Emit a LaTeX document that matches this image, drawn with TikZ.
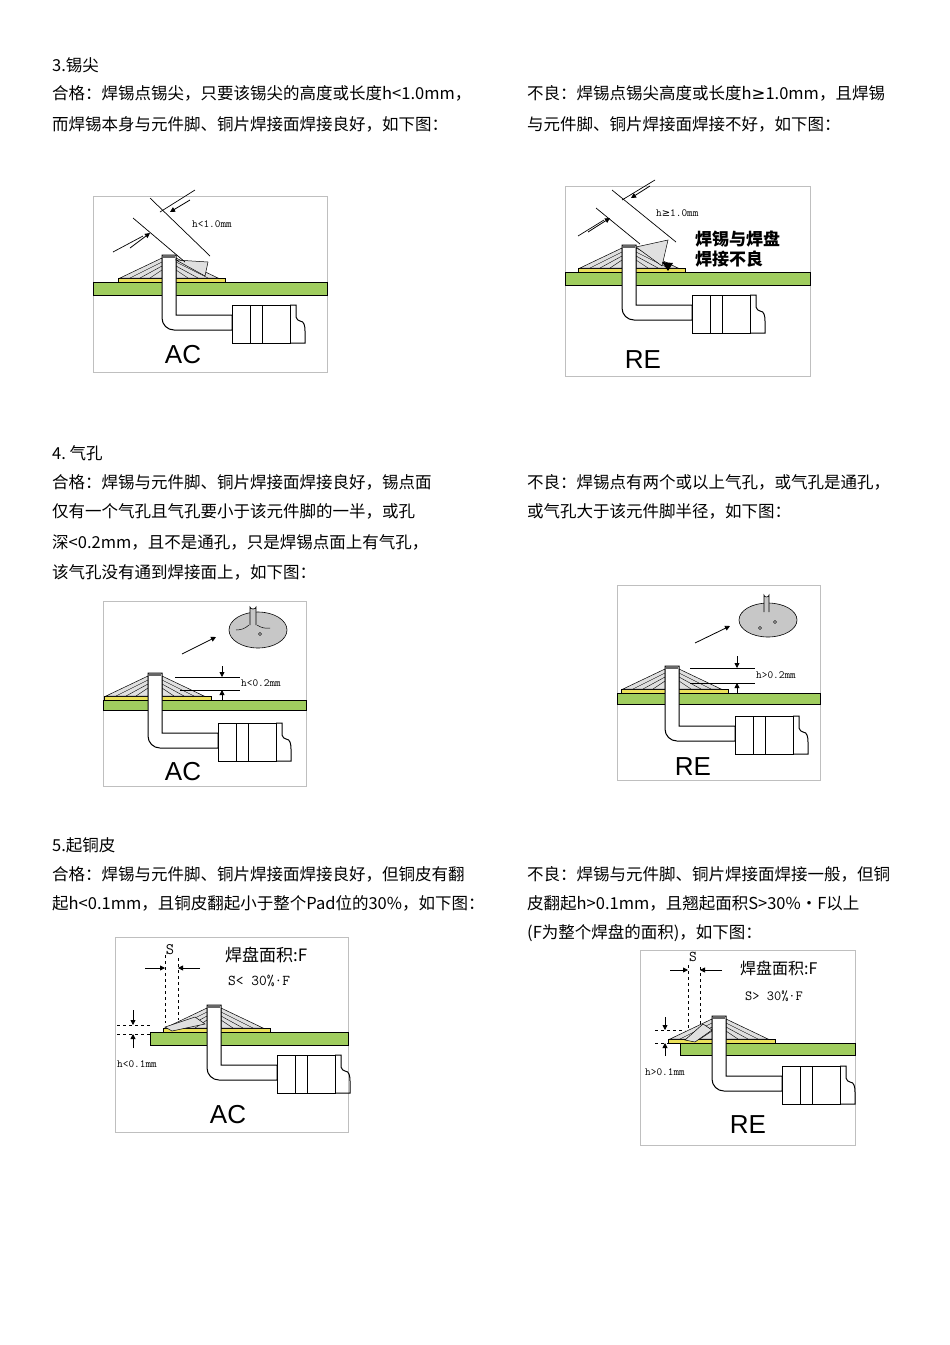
\documentclass[tikz,border=0pt]{standalone}
\usepackage{fontspec}
\newfontfamily\cjk{Noto Sans CJK SC}
\newfontfamily\djv{DejaVu Sans}
\setsansfont{Liberation Sans}
\usetikzlibrary{arrows.meta}
\definecolor{boardg}{RGB}{160,205,95}
\definecolor{padY}{RGB}{235,225,90}
\tikzset{
  txt/.style={anchor=west,inner sep=0pt,font=\cjk\fontsize{16.5}{16.5}\selectfont},
  frame/.style={draw=black!25,line width=0.6pt},
  lab/.style={inner sep=0pt,font=\ttfamily\fontsize{11}{11}\selectfont},
  big/.style={inner sep=0pt,font=\sffamily\fontsize{26}{26}\selectfont},
  dim/.style={-{Triangle[length=5pt,width=5pt]},line width=0.8pt},
  joint/.pic={
    \fill[padY,draw=black,line width=0.6pt] (-44,23) rectangle (63,27);
    \fill[black!12,draw=black,line width=0.5pt] (-42,23) -- (0,3) -- (0,23) -- cycle;
    \fill[black!12,draw=black,line width=0.5pt] (14,3) -- (56,23) -- (14,23) -- cycle;
    \foreach \k in {1,2,3} {\draw[line width=0.4pt] (-42+10*\k,23) -- (0,3+4*\k);
      \draw[line width=0.4pt] (56-10*\k,23) -- (14,3+4*\k);}
    \filldraw[fill=white,line width=1pt] (0,0) -- (14,0) -- (14,60) -- (70,60) -- (70,75) -- (12,75) to[out=180,in=-90] (0,63) -- cycle;
    \fill[black!60] (1,0) rectangle (13,3);
    \filldraw[fill=white,line width=1pt] (70,50) rectangle (128,88);
    \draw[line width=1pt] (88,50) -- (88,88) (100,50) -- (100,88);
    \draw[line width=1pt] (128,50) -- (134,50) -- (134,62) to[out=-60,in=180] (138,66) to[out=0,in=90] (143,76) -- (143,88) -- (128,88);
  }
}
\begin{document}
\begin{tikzpicture}[x=1pt,y=-1pt]
\useasboundingbox[fill=white] (0,0) rectangle (950,1345);
% ---- texts
\node[txt] (t1) at (52,65) {3.锡尖};
\node[txt] (t2) at (52,93) {合格：焊锡点锡尖，只要该锡尖的高度或长度h<1.0mm，};
\node[txt] (t3) at (52,124) {而焊锡本身与元件脚、铜片焊接面焊接良好，如下图：};
\node[txt] (t4) at (527,93) {不良：焊锡点锡尖高度或长度h{\djv ≥}1.0mm，且焊锡};
\node[txt] (t5) at (527,124) {与元件脚、铜片焊接面焊接不好，如下图：};
\node[txt] (t6) at (52,453) {4.\ 气孔};
\node[txt] (t7) at (52,482) {合格：焊锡与元件脚、铜片焊接面焊接良好，锡点面};
\node[txt] (t8) at (52,511) {仅有一个气孔且气孔要小于该元件脚的一半，或孔};
\node[txt] (t9) at (52,542) {深<0.2mm，且不是通孔，只是焊锡点面上有气孔，};
\node[txt] (t10) at (52,572) {该气孔没有通到焊接面上，如下图：};
\node[txt] (t11) at (527,482) {不良：焊锡点有两个或以上气孔，或气孔是通孔，};
\node[txt] (t12) at (527,511) {或气孔大于该元件脚半径，如下图：};
\node[txt] (t13) at (52,845) {5.起铜皮};
\node[txt] (t14) at (52,874) {合格：焊锡与元件脚、铜片焊接面焊接良好，但铜皮有翻};
\node[txt] (t15) at (52,903) {起h<0.1mm，且铜皮翻起小于整个Pad位的30\%，如下图：};
\node[txt] (t16) at (527,874) {不良：焊锡与元件脚、铜片焊接面焊接一般，但铜};
\node[txt] (t17) at (527,903) {皮翻起h>0.1mm，且翘起面积S>30\%·F以上};
\node[txt] (t18) at (527,933) {(F为整个焊盘的面积)，如下图：};

% ---- fig 1 AC
\draw[frame] (93,196) rectangle (327,372);
\fill[boardg,draw=black,line width=0.6pt] (93,282) rectangle (327,295);
\pic at (162,255) {joint};
\fill[black!12,draw=black,line width=0.5pt] (176,260) -- (208,262) -- (205,276) -- cycle;
\draw[line width=0.7pt] (150,198) -- (210,256) (133,218) -- (185,262);
\draw[line width=0.7pt] (160,212) -- (195,190) (143,236) -- (113,252);
\draw[dim] (190,200) -- (170,212);
\draw[dim] (130,248) -- (150,233);
\node[lab,anchor=west] (l1) at (192,224) {h<1.0mm};
\node[big] (ac1) at (183,355) {AC};

% ---- fig 2 RE
\draw[frame] (565,186) rectangle (810,376);
\fill[boardg,draw=black,line width=0.6pt] (565,272) rectangle (810,285);
\pic at (622,245) {joint};
\fill[black!12,draw=black,line width=0.5pt] (636,247) -- (668,240) -- (662,266) -- cycle;
\draw[line width=0.7pt] (612,190) -- (676,242) (596,208) -- (640,244);
\draw[line width=0.7pt] (622,200) -- (655,180) (604,220) -- (578,236);
\draw[dim] (650,186) -- (631,198);
\draw[dim] (588,232) -- (610,218);
\node[lab,anchor=west] (l2) at (656,213) {h{\djv\fontsize{10}{10}\selectfont ≥}1.0mm};
\node[inner sep=0pt,font=\cjk\bfseries\fontsize{17}{20}\selectfont,align=left,anchor=west] (bad2) at (695,249) {焊锡与焊盘\\焊接不良};
\fill (668,271) -- (662,262) -- (673,263) -- cycle;
\node[big] (re2) at (643,360) {RE};

% ---- fig 3 AC
\draw[frame] (103,601) rectangle (306,786);
\fill[boardg,draw=black,line width=0.6pt] (103,700) rectangle (306,710);
\pic at (148,673) {joint};
\draw[line width=0.6pt] (175,677) -- (240,677) (180,690) -- (240,690);
\draw[dim] (222,666) -- (222,677);
\draw[dim] (222,700) -- (222,690);
\node[lab,anchor=west] (l3) at (241,683) {h<0.2mm};
\filldraw[fill=black!22,line width=0.6pt] (258,630) ellipse (29 and 18);
\filldraw[fill=black!22,line width=0.6pt] (250,625) -- (250,607) arc (180:0:3 and 2) -- (256,625);
\fill[white,draw=black,line width=0.4pt] (260,634) circle (1.5);
\draw[line width=0.5pt] (236,630) to[bend right=20] (249,625) (270,628) to[bend left=20] (257,625);
\draw[dim] (182,654) -- (216,637);
\node[big] (ac3) at (183,772) {AC};

% ---- fig 4 RE
\draw[frame] (617,585) rectangle (820,780);
\fill[boardg,draw=black,line width=0.6pt] (617,693) rectangle (820,704);
\pic at (665,666) {joint};
\draw[line width=0.6pt] (690,668) -- (755,668) (690,683) -- (755,683);
\draw[dim] (737,656) -- (737,668);
\draw[dim] (737,694) -- (737,683);
\node[lab,anchor=west] (l4) at (756,675) {h>0.2mm};
\filldraw[fill=black!22,line width=0.6pt] (768,620) ellipse (29 and 17);
\filldraw[fill=black!22,line width=0.6pt] (764,612) -- (764,595) arc (180:0:2.5 and 2) -- (769,612);
\fill[white,draw=black,line width=0.4pt] (760,628) circle (1.5) (775,622) circle (1.5);
\draw[dim] (695,643) -- (730,626);
\node[big] (re4) at (693,767) {RE};

% ---- fig 5 AC
\draw[frame] (115,937) rectangle (348,1132);
\fill[boardg,draw=black,line width=0.6pt] (150,1032) rectangle (348,1045);
\pic at (207,1005) {joint};
\fill[black!12,draw=black,line width=0.5pt] (165,1027) -- (195,1017) -- (205,1024) -- (172,1031) -- cycle;
\draw[dashed,line width=0.8pt] (165,955) -- (165,1023) (178,958) -- (178,1020);
\draw[dim] (145,968) -- (165,968);
\draw[dim] (200,968) -- (178,968);
\node[lab,font=\ttfamily\fontsize{16}{16}\selectfont] (s5) at (170,950) {S};
\node[inner sep=0pt,anchor=west,font=\cjk\fontsize{17}{17}\selectfont] (f5) at (225,955) {焊盘面积:F};
\node[inner sep=0pt,anchor=west,font=\ttfamily\fontsize{15}{15}\selectfont] (r5) at (228,981) {S< 30\%·F};
\draw[dashed,line width=0.6pt] (117,1025) -- (150,1025) (117,1034) -- (150,1034);
\draw[dim] (133,1010) -- (133,1025);
\draw[dim] (133,1048) -- (133,1034);
\node[lab,anchor=west] (l5) at (117,1064) {h<0.1mm};
\node[big] (ac5) at (228,1115) {AC};

% ---- fig 6 RE
\draw[frame] (640,950) rectangle (855,1145);
\fill[boardg,draw=black,line width=0.6pt] (680,1043) rectangle (855,1055);
\pic at (712,1016) {joint};
\fill[black!12,draw=black,line width=0.5pt] (685,1040) -- (703,1024) -- (712,1030) -- (695,1042) -- cycle;
\draw[dashed,line width=0.8pt] (688,965) -- (688,1030) (700,967) -- (700,1026);
\draw[dim] (670,970) -- (688,970);
\draw[dim] (722,970) -- (700,970);
\node[lab,font=\ttfamily\fontsize{15}{15}\selectfont] (s6) at (693,957) {S};
\node[inner sep=0pt,anchor=west,font=\cjk\fontsize{16}{16}\selectfont] (f6) at (740,968) {焊盘面积:F};
\node[inner sep=0pt,anchor=west,font=\ttfamily\fontsize{14}{14}\selectfont] (r6) at (745,996) {S> 30\%·F};
\draw[dashed,line width=0.6pt] (655,1030) -- (685,1030) (655,1043) -- (685,1043);
\draw[dim] (665,1017) -- (665,1030);
\draw[dim] (665,1056) -- (665,1043);
\node[lab,anchor=west] (l6) at (645,1072) {h>0.1mm};
\node[big] (re6) at (748,1125) {RE};
\end{tikzpicture}
\end{document}
